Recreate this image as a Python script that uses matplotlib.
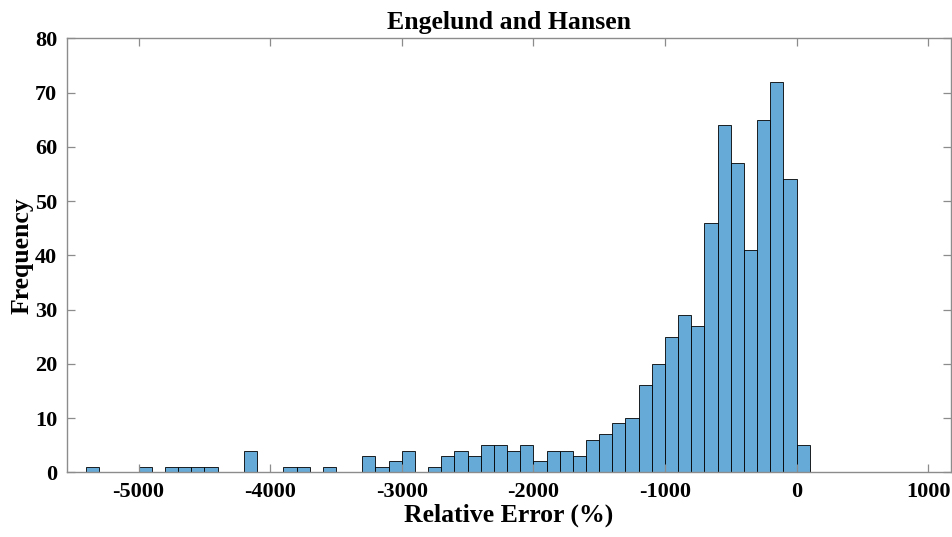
import numpy as np
from matplotlib import pyplot as plt

# histogram of relative error, bins of 100 from -5400 to 100
bin_edges = np.arange(-5400, 200, 100)
counts = [1, 0, 0, 0, 1, 0, 1, 1, 1, 1,
          0, 0, 4, 0, 0, 1, 1, 0, 1, 0,
          0, 3, 1, 2, 4, 0, 1, 3, 4, 3,
          5, 5, 4, 5, 2, 4, 4, 3, 6, 7,
          9, 10, 16, 20, 25, 29, 27, 46, 64, 57,
          41, 65, 72, 54, 5]
x_ticks = [-5000, -4000, -3000, -2000, -1000, 0, 1000]
y_ticks = [0, 10, 20, 30, 40, 50, 60, 70, 80]

plt.rcParams['font.family'] = ['Liberation Serif', 'DejaVu Serif']
plt.rcParams['font.weight'] = 'bold'
plt.rcParams['axes.unicode_minus'] = False

fig = plt.figure(figsize=(9.52, 5.37), dpi=100)
ax = fig.add_axes([0.0701, 0.1205, 0.9285, 0.8082])

ax.bar(bin_edges[:-1], counts, width=100, align='edge',
       color='#66aad7', edgecolor='black', linewidth=0.6)

ax.set_xlim(-5546, 1171)
ax.set_ylim(0, 80)
ax.set_xticks(x_ticks)
ax.set_yticks(y_ticks)

axis_color = '#8c8c8c'
for side in ['left', 'right', 'top', 'bottom']:
    ax.spines[side].set_color(axis_color)
    ax.spines[side].set_linewidth(1.0)
ax.tick_params(direction='in', length=6, width=0.9, color=axis_color,
               top=True, right=True, labelsize=16, pad=7)
for lbl in ax.get_xticklabels() + ax.get_yticklabels():
    lbl.set_fontweight('bold')

ax.set_title("Engelund and Hansen", fontsize=18.5, fontweight='bold', pad=7)
ax.set_xlabel("Relative Error (%)", fontsize=18.5, fontweight='bold', labelpad=1)
ax.set_ylabel("Frequency", fontsize=18.5, fontweight='bold', labelpad=1)

fig.savefig("out.png", dpi=100)
